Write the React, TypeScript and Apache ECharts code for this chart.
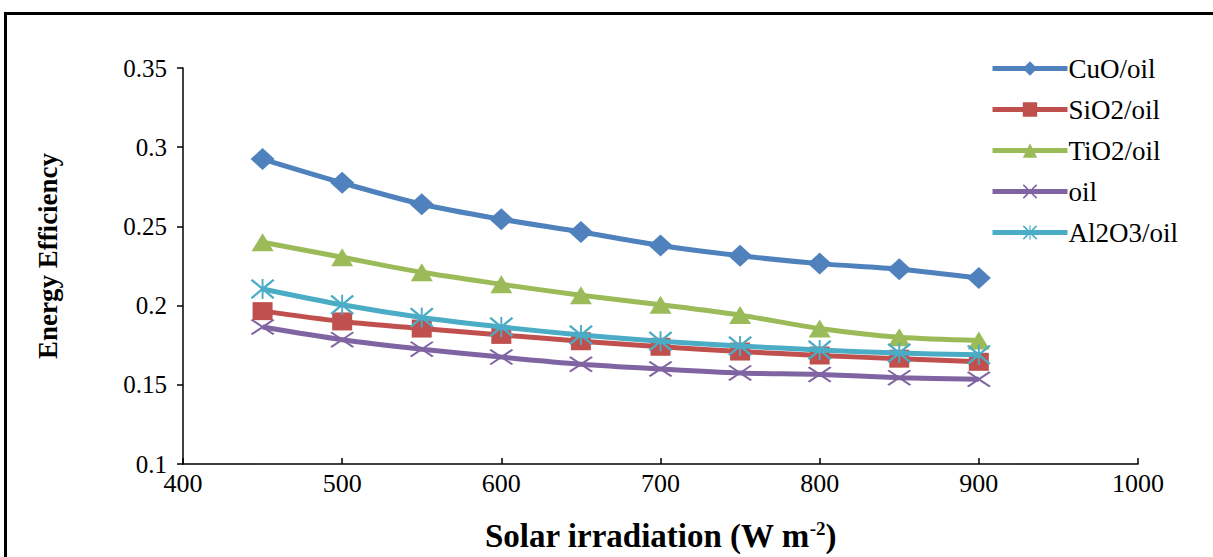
import React, { useEffect, useRef } from "react";
import * as echarts from "echarts";

const irradiation = [450, 500, 550, 600, 650, 700, 750, 800, 850, 900];
const cuo = [0.2925, 0.2775, 0.264, 0.2545, 0.2465, 0.238, 0.2315, 0.2265, 0.223, 0.2175];
const sio2 = [0.1965, 0.19, 0.1855, 0.1815, 0.1775, 0.174, 0.171, 0.1685, 0.1665, 0.1645];
const tio2 = [0.24, 0.2305, 0.221, 0.2135, 0.2065, 0.2005, 0.194, 0.1855, 0.18, 0.178];
const oil = [0.1865, 0.1785, 0.1725, 0.1675, 0.163, 0.16, 0.1575, 0.1565, 0.1545, 0.1535];
const al2o3 = [0.2105, 0.2005, 0.1925, 0.1865, 0.1815, 0.1775, 0.1745, 0.172, 0.17, 0.169];

const seriesNames = ["CuO/oil", "SiO2/oil", "TiO2/oil", "oil", "Al2O3/oil"];
const seriesColors = ["#4F81BD", "#C0504D", "#9BBB59", "#8064A2", "#4BACC6"];

const X_PATH = "path://M0,1.5 L1.5,0 L20,18.5 L18.5,20 Z M18.5,0 L20,1.5 L1.5,20 L0,18.5 Z";
const STAR_PATH =
  "path://M0,1.5 L1.5,0 L20,18.5 L18.5,20 Z M18.5,0 L20,1.5 L1.5,20 L0,18.5 Z M9.2,0 L10.8,0 L10.8,20 L9.2,20 Z";

export default function App() {
  const ref = useRef<HTMLDivElement>(null);
  useEffect(() => {
    if (!ref.current) return;
    const chart = echarts.init(ref.current, null, { renderer: "svg" });
    const allData = [cuo, sio2, tio2, oil, al2o3];
    const symbols = ["diamond", "rect", "triangle", X_PATH, STAR_PATH];
    const sizes = [[24, 22], [20, 18], [22, 18], [24, 16], [24, 20]];
    const font = "'Liberation Serif', 'Times New Roman', serif";
    chart.setOption({
      animation: false,
      backgroundColor: "#fff",
      textStyle: { fontFamily: font },
      grid: { left: 183, right: 75, top: 68, bottom: 89, containLabel: false },
      legend: {
        orient: "vertical",
        left: 985,
        top: 48,
        itemWidth: 75,
        itemHeight: 18,
        itemGap: 10,
        data: seriesNames,
        lineStyle: { width: 5 },
        textStyle: { fontFamily: font, fontSize: 27, lineHeight: 31, color: "#000", padding: [0, 0, 0, -4] },
      },
      xAxis: {
        type: "value",
        min: 400,
        max: 1000,
        interval: 100,
        name: "Solar irradiation (W m{sup|-2})",
        nameLocation: "middle",
        nameGap: 55,
        nameTextStyle: {
          fontFamily: font,
          fontSize: 33,
          fontWeight: "bold",
          color: "#000",
          rich: {
            sup: { fontSize: 19, fontWeight: "bold", verticalAlign: "top", padding: [0, 0, 14, 0], fontFamily: font },
          },
        },
        axisLine: { lineStyle: { color: "#000", width: 1.5 } },
        axisTick: { inside: true, length: 6, lineStyle: { color: "#000", width: 1.5 } },
        axisLabel: {
          fontFamily: font,
          fontSize: 26,
          color: "#000",
          margin: 6,
          formatter: (v: number) => String(v),
        },
        splitLine: { show: false },
      },
      yAxis: {
        type: "value",
        min: 0.1,
        max: 0.35,
        interval: 0.05,
        name: "Energy Efficiency",
        nameLocation: "middle",
        nameGap: 122,
        nameTextStyle: { fontFamily: font, fontSize: 27, fontWeight: "bold", color: "#000", padding: [0, 0, 0, 20] },
        axisLine: { show: true, lineStyle: { color: "#000", width: 1.5 } },
        axisTick: { show: true, inside: false, length: 6, lineStyle: { color: "#000", width: 1.5 } },
        axisLabel: {
          fontFamily: font,
          fontSize: 25,
          color: "#000",
          margin: 16,
          formatter: (v: number) => String(parseFloat(v.toFixed(2))),
        },
        splitLine: { show: false },
      },
      series: seriesNames.map((name, i) => ({
        name,
        type: "line",
        smooth: 0.3,
        data: irradiation.map((x, j) => [x, allData[i][j]]),
        symbol: symbols[i],
        symbolSize: sizes[i],
        lineStyle: { color: seriesColors[i], width: 5 },
        itemStyle: { color: seriesColors[i] },
        z: i === 4 ? 3 : 2,
      })),
      graphic: [
        { type: "rect", shape: { x: 4, y: 12, width: 1213, height: 3 }, style: { fill: "#000" } },
        { type: "rect", shape: { x: 4, y: 12, width: 3, height: 560 }, style: { fill: "#000" } },
      ],
    });
    return () => chart.dispose();
  }, []);
  return <div ref={ref} style={{ position: "fixed", left: 0, top: 0, width: 1213, height: 557 }} />;
}
